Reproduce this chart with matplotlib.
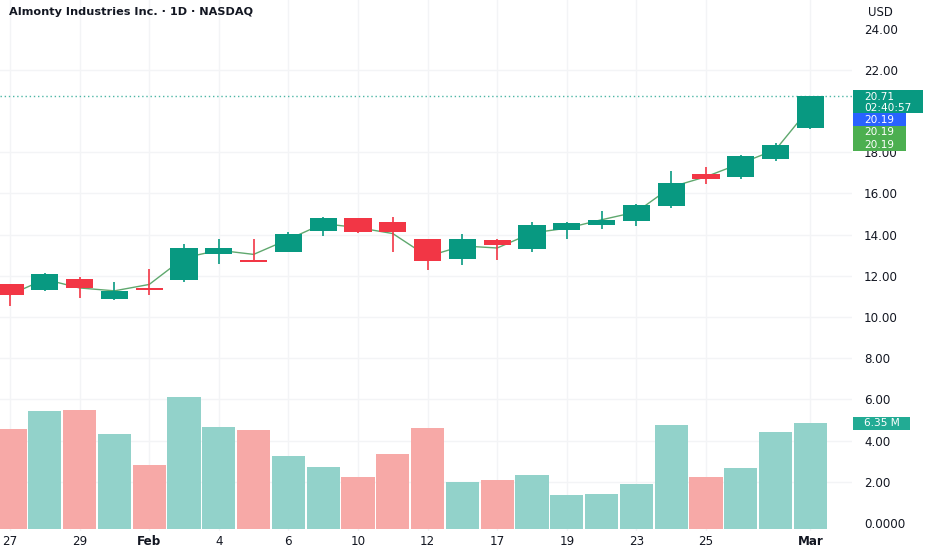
import matplotlib
matplotlib.use("Agg")
import matplotlib.pyplot as plt
from matplotlib.patches import Rectangle

# ---------------- data ----------------
day_labels = ['27', '', '29', '', 'Feb', '', '4', '', '6', '', '10', '', '12', '',
              '17', '', '19', '', '23', '', '25', '', '', 'Mar']
opens  = [11.59, 11.31, 11.86, 10.89, 11.41, 11.80, 13.06, 12.77, 13.17, 14.19, 14.81, 14.61,
          13.77, 12.83, 13.74, 13.29, 14.22, 14.45, 14.66, 15.40, 16.96, 16.80, 17.69, 19.17]
highs  = [11.62, 12.15, 11.93, 11.71, 12.35, 13.56, 13.79, 13.80, 14.11, 14.87, 14.83, 14.85,
          13.80, 14.04, 13.79, 14.61, 14.61, 15.16, 15.47, 17.09, 17.28, 17.86, 18.46, 20.71]
lows   = [10.55, 11.26, 10.90, 10.83, 11.05, 11.71, 12.59, 12.66, 13.17, 13.92, 14.09, 13.17,
          12.28, 12.52, 12.77, 13.17, 13.77, 14.29, 14.42, 15.31, 16.47, 16.70, 17.56, 19.11]
closes = [11.07, 12.07, 11.41, 11.26, 11.33, 13.33, 13.33, 12.66, 14.04, 14.79, 14.11, 14.14,
          12.73, 13.79, 13.50, 14.47, 14.55, 14.71, 15.42, 16.52, 16.68, 17.82, 18.33, 20.71]
line_vals = [11.08, 11.83, 11.41, 11.27, 11.58, 12.87, 13.24, 13.04, 13.77, 14.53, 14.34, 14.05,
             12.94, 13.45, 13.35, 14.08, 14.31, 14.72, 15.10, 16.31, 16.81, 17.46, 18.12, 20.19]
volumes = [5.97, 7.07, 7.11, 5.69, 3.84, 7.89, 6.11, 5.91, 4.34, 3.70, 3.11, 4.50,
           6.05, 2.83, 2.93, 3.21, 2.01, 2.09, 2.69, 6.19, 3.11, 3.66, 5.80, 6.35]
price_ticks = [0, 2, 4, 6, 8, 10, 12, 14, 16, 18, 20, 22, 24]
price_tick_labels = ['0.0000', '2.00', '4.00', '6.00', '8.00', '10.00', '12.00', '14.00',
                     '16.00', '18.00', '', '22.00', '24.00']
grid_levels = [2, 4, 6, 8, 10, 12, 14, 16, 18, 22]
last_price = 20.71
last_line = 20.19
last_volume = 6.35

# ---------------- style ----------------
UP = '#089981'
DOWN = '#F23645'
VUP = '#92D2CA'
VDOWN = '#F7A9A7'
TXT = '#131722'
GRID = '#F3F4F6'
FONT = 'DejaVu Sans'
plt.rcParams['font.family'] = [FONT]

W, H = 932, 550
fig = plt.figure(figsize=(W / 100, H / 100), dpi=100)
fig.patch.set_facecolor('white')

def fx(px):
    return px / W

def fy(py):
    return 1 - py / H

ax_right_px = 852
ax_bottom_px = 531
ax = fig.add_axes([0, fy(ax_bottom_px), fx(ax_right_px), ax_bottom_px / H])
ax.set_facecolor('white')

n = len(opens)
xs = list(range(n))
step = 34.8
x0px = 10
ax.set_xlim(-x0px / step, (ax_right_px - x0px) / step)

ppu = 20.6
zero_px = 523
ax.set_ylim((zero_px - ax_bottom_px) / ppu, zero_px / ppu)

for s in ax.spines.values():
    s.set_visible(False)

# grid
for g in grid_levels:
    ax.axhline(g, color=GRID, lw=1, zorder=0)
tick_idx = [i for i, l in enumerate(day_labels) if l]
for i in tick_idx:
    ax.axvline(i, color=GRID, lw=1, zorder=0)

ax.set_xticks(tick_idx)
ax.set_xticklabels([day_labels[i] for i in tick_idx])
ax.tick_params(axis='x', length=0, pad=3, labelsize=8.6, labelcolor=TXT)
for lbl in ax.get_xticklabels():
    if lbl.get_text() in ('Feb', 'Mar'):
        lbl.set_fontweight('bold')

# hlc3 line
ax.plot(xs, line_vals, color='#5FA86E', lw=1, zorder=2)

# candles
bw = 0.78
for i in xs:
    o, h, l, c = opens[i], highs[i], lows[i], closes[i]
    col = UP if c >= o else DOWN
    ax.vlines(i, l, h, color=col, lw=1.2, zorder=3)
    ax.bar(i, abs(c - o), bottom=min(o, c), width=bw, color=col, zorder=4, linewidth=0)

# last price dotted line
ax.axhline(last_price, color='#4DB6A5', lw=1, linestyle=(0, (1, 2)), zorder=1)

# volume on twin axis
axv = ax.twinx()
axv.patch.set_visible(False)
vppu = 16.74
vzero_px = 529
axv.set_ylim(-(ax_bottom_px - vzero_px) / vppu, vzero_px / vppu)
axv.set_yticks([])
for s in axv.spines.values():
    s.set_visible(False)
vcols = [VUP if closes[i] >= opens[i] else VDOWN for i in xs]
axv.bar(xs, volumes, width=0.95, color=vcols, linewidth=0, zorder=1)

# price ticks on the right (after twinx, which resets the side)
ax.yaxis.tick_right()
ax.set_yticks(price_ticks)
ax.set_yticklabels(price_tick_labels)
ax.tick_params(axis='y', which='both', left=False, labelleft=False, right=False,
               labelright=True, length=0, pad=8.6, labelsize=8.6, labelcolor=TXT)

# ---------------- text & labels ----------------
fig.text(fx(9), fy(12), 'Almonty Industries Inc. · 1D · NASDAQ', ha='left', va='center',
         fontsize=8.1, fontweight='bold', color=TXT)
fig.text(fx(880), fy(12), 'USD', ha='center', va='center', fontsize=8.4, color=TXT)

def box(x1, y1, x2, y2, color):
    fig.patches.append(Rectangle((fx(x1), fy(y2)), fx(x2) - fx(x1), fy(y1) - fy(y2),
                                 transform=fig.transFigure, facecolor=color,
                                 edgecolor='none', zorder=5))

def label(px, py, s, size=7.6):
    fig.text(fx(px), fy(py), s, ha='left', va='center', fontsize=size,
             color='white', zorder=6)

box(853, 90.5, 923, 113.5, UP)
label(864, 96.8, f'{last_price:.2f}')
label(864, 107.6, '02:40:57')
box(853, 113.5, 906, 126, '#2962FF')
label(864, 119.8, f'{last_line:.2f}')
box(853, 126, 906, 151, '#4CAF50')
label(864, 132.3, f'{last_line:.2f}')
label(864, 144.6, f'{last_line:.2f}')

box(853, 417, 910, 429.5, '#22AB94')
label(864, 423.2, f'{last_volume:.2f} M')

fig.savefig('out.png', dpi=100, facecolor='white')
